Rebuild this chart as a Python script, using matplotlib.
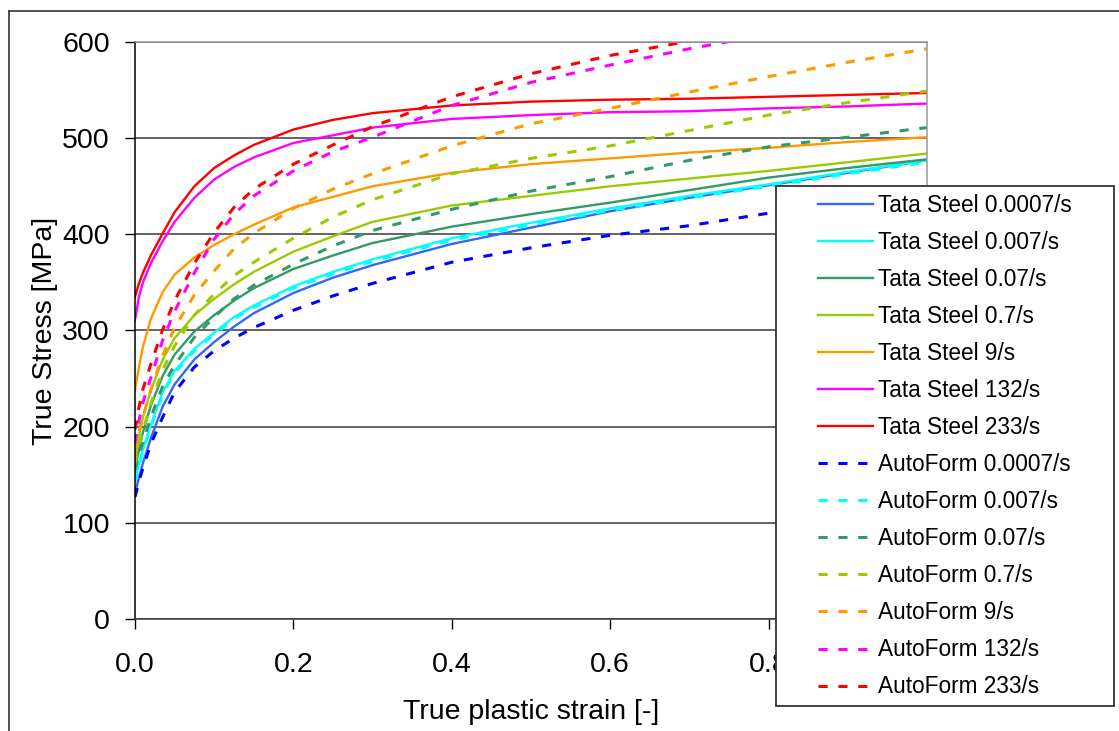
import matplotlib
matplotlib.use("Agg")
import matplotlib.pyplot as plt
from matplotlib.lines import Line2D
from matplotlib.patches import Rectangle

plt.rcParams["font.family"] = ["Liberation Sans", "DejaVu Sans"]

# common strain grid [-]
strain = [0, 0.005, 0.01, 0.02, 0.035, 0.05, 0.075, 0.1, 0.125, 0.15,
          0.2, 0.25, 0.3, 0.4, 0.5, 0.6, 0.7, 0.8, 0.9, 1.0]

# Tata Steel measurements [MPa]
ts_0007 = [131, 147, 162, 188, 221, 244, 270, 288, 304, 318,
           339, 355, 368, 390, 407, 424, 438, 451, 464, 477]
ts_007 = [145, 161, 176, 202, 236, 258, 281, 298, 314, 326,
          346, 361, 374, 396, 412, 427, 440, 452, 465, 477]
ts_07 = [155, 176, 194, 222, 253, 275, 299, 316, 331, 344,
         364, 378, 391, 408, 421, 433, 446, 459, 469, 478]
ts_7 = [166, 190, 210, 238, 270, 292, 316, 333, 348, 361,
        382, 398, 413, 430, 440, 450, 458, 466, 475, 484]
ts_9 = [238, 262, 283, 312, 340, 358, 376, 389, 400, 410,
        428, 439, 450, 464, 473, 479, 485, 490, 496, 501]
ts_132 = [311, 335, 350, 370, 393, 413, 438, 457, 470, 480,
          495, 503, 511, 520, 524, 527, 528, 531, 533, 536]
ts_233 = [335, 349, 360, 378, 401, 423, 450, 469, 482, 493,
          509, 519, 526, 534, 538, 540, 541, 543, 545, 547]

# AutoForm curves [MPa]
af_0007 = [127, 143, 157, 182, 210, 236, 262, 279, 292, 303,
           321, 336, 349, 371, 386, 399, 409, 422, 435, 447]
af_007 = [143, 159, 174, 200, 234, 256, 279, 296, 312, 324,
          344, 359, 372, 394, 410, 425, 438, 450, 463, 475]
af_07 = [155, 170, 184, 210, 242, 264, 293, 314, 333, 347,
         369, 388, 404, 426, 445, 460, 477, 491, 501, 511]
af_7 = [162, 180, 196, 224, 259, 284, 316, 338, 357, 371,
        396, 418, 436, 463, 479, 492, 508, 524, 537, 549]
af_9 = [175, 195, 210, 238, 274, 303, 337, 362, 385, 401,
        427, 447, 463, 492, 515, 531, 548, 564, 579, 593]
af_132 = [183, 206, 225, 251, 290, 320, 360, 395, 421, 440,
          466, 486, 501, 534, 558, 576, 593, 608, 622, 635]
af_233 = [197, 220, 239, 265, 301, 331, 370, 402, 428, 447,
          473, 493, 512, 543, 567, 586, 601, 617, 632, 646]

rates = ["0.0007/s", "0.007/s", "0.07/s", "0.7/s", "9/s", "132/s", "233/s"]
tata = [ts_0007, ts_007, ts_07, ts_7, ts_9, ts_132, ts_233]
autoform = [af_0007, af_007, af_07, af_7, af_9, af_132, af_233]
tata_colors = ["#3366ff", "#00ffff", "#339966", "#99cc00", "#ff9900",
               "#ff00ff", "#ff0000"]
af_colors = ["#0000ff", "#00ffff", "#339966", "#99cc00", "#ff9900",
             "#ff00ff", "#ff0000"]

W, H = 1119, 731
fig = plt.figure(figsize=(W / 100, H / 100), dpi=100, facecolor="white")
ax = fig.add_axes([135 / W, 1 - 619 / H, (927 - 135) / W, (619 - 42) / H])

handles = []
for rate, y, c in zip(rates, tata, tata_colors):
    h, = ax.plot(strain, y, color=c, linewidth=1.7, label="Tata Steel " + rate)
    handles.append(h)
for rate, y, c in zip(rates, autoform, af_colors):
    h, = ax.plot(strain, y, color=c, linewidth=2.2, linestyle=(0, (3, 3.5)),
                 label="AutoForm " + rate)
    handles.append(h)

ax.set_xlim(0, 1.0)
ax.set_ylim(0, 600)
ax.set_xticks([0.0, 0.2, 0.4, 0.6, 0.8])
ax.set_xticklabels(["0.0", "0.2", "0.4", "0.6", "0.8"])
ax.set_yticks([0, 100, 200, 300, 400, 500, 600])
ax.yaxis.grid(True, color="#3a3a3a", linewidth=1.1)
ax.set_axisbelow(True)
for side in ("top", "right"):
    ax.spines[side].set_color("#999999")
    ax.spines[side].set_linewidth(1.1)
ax.spines["left"].set_color("black")
ax.spines["bottom"].set_color("#3a3a3a")
ax.spines["left"].set_linewidth(1.1)
ax.spines["bottom"].set_linewidth(1.1)
ax.tick_params(axis="both", direction="out", length=7, width=1.0,
               colors="black", labelsize=20.5)
ax.tick_params(axis="y", pad=11)
ax.tick_params(axis="x", pad=17)
ax.set_xlabel("True plastic strain [-]", fontsize=20.5, labelpad=15)
ax.set_ylabel("True Stress [MPa]", fontsize=20.5, labelpad=3)

# legend box drawn separately so the inner spacing can follow the original
box = Rectangle((776 / W, 1 - 706 / H), (1114 - 776) / W, (706 - 186) / H,
                transform=fig.transFigure, facecolor="white",
                edgecolor="#333333", linewidth=1.3, zorder=5)
fig.add_artist(box)
leg = fig.legend(handles=handles, loc="upper left",
                 bbox_to_anchor=(818 / W, 1 - 194 / H), frameon=False,
                 fontsize=16.3, handlelength=2.45, handletextpad=0.22,
                 labelspacing=0.62, borderpad=0, borderaxespad=0)
leg.set_zorder(6)

# outer frame of the exported chart
fig.add_artist(Line2D([9 / W, 1], [1 - 11 / H, 1 - 11 / H],
                      transform=fig.transFigure, color="#333333", linewidth=1.2))
fig.add_artist(Line2D([9 / W, 9 / W], [0, 1 - 11 / H],
                      transform=fig.transFigure, color="#333333", linewidth=1.2))

fig.savefig("out.png", dpi=100, facecolor="white")
